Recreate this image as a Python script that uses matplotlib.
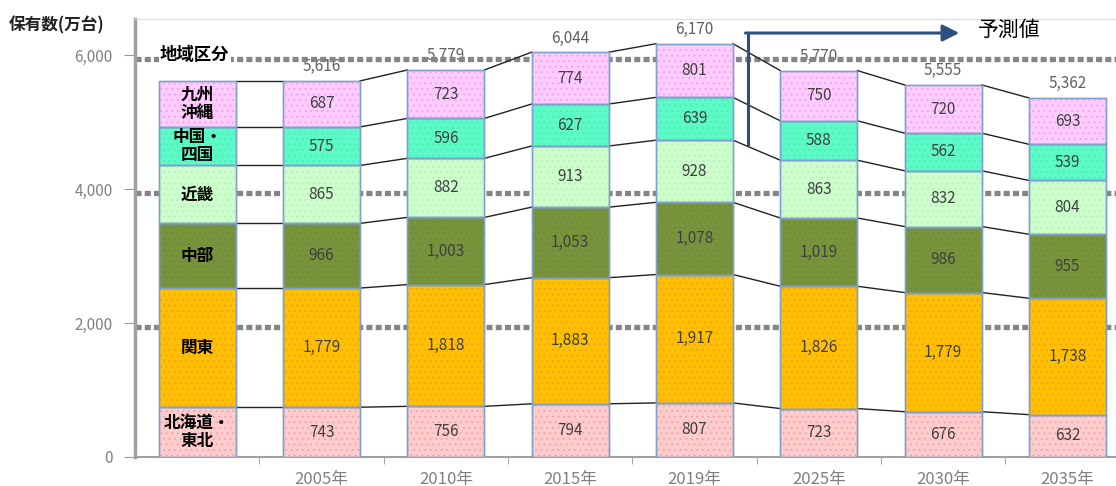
"""Stacked bars of vehicle holdings by region, with forecast years."""

import matplotlib

matplotlib.use("Agg")

import matplotlib.pyplot as plt
import matplotlib.transforms as mtransforms
import numpy as np

plt.rcParams["font.family"] = ["Noto Sans CJK JP", "DejaVu Sans"]
plt.rcParams["hatch.linewidth"] = 0.6

years = ["2005年", "2010年", "2015年", "2019年", "2025年", "2030年", "2035年"]
regions = ["北海道・\n東北", "関東", "中部", "近畿", "中国・\n四国", "九州\n沖縄"]

hokkaido_tohoku = [743, 756, 794, 807, 723, 676, 632]
kanto = [1779, 1818, 1883, 1917, 1826, 1779, 1738]
chubu = [966, 1003, 1053, 1078, 1019, 986, 955]
kinki = [865, 882, 913, 928, 863, 832, 804]
chugoku_shikoku = [575, 596, 627, 639, 588, 562, 539]
kyushu_okinawa = [687, 723, 774, 801, 750, 720, 693]
totals = ["5,616", "5,779", "6,044", "6,170", "5,770", "5,555", "5,362"]

series = [hokkaido_tohoku, kanto, chubu, kinki, chugoku_shikoku, kyushu_okinawa]
face_colors = ["#FFCCCC", "#FFC000", "#77933C", "#CCFFCC", "#5CFAC6", "#FFCCFF"]
dot_colors = ["#F2A0AC", "#F49A2A", "#6E8C36", "#B8ECB8", "#50EAB6", "#EE9EEC"]

# column 0 is the region legend column, it repeats the 2005 values
values = np.array([[s[0]] + list(s) for s in series], dtype=float)
bottoms = np.vstack([np.zeros(values.shape[1]), np.cumsum(values, axis=0)[:-1]])
tops = bottoms + values
x = np.arange(values.shape[1])
width = 0.62

fig = plt.figure(figsize=(11.16, 4.86), dpi=100)
ax = fig.add_axes([0.121, 0.0597, 0.879, 0.9013])
ax.set_xlim(-0.5, 7.39)
ax.set_ylim(0, 6540)

# dotted gridlines, sitting a few pixels below the tick values
offset = mtransforms.ScaledTranslation(0, -4 / 100, fig.dpi_scale_trans)
for level in [2000, 4000, 6000]:
    ax.plot([0, 1], [level, level], color="#858585", lw=3.8, linestyle=(0, (1.15, 0.6)),
            solid_capstyle="butt", transform=ax.get_yaxis_transform() + offset,
            zorder=2, clip_on=False)

for k in range(len(series)):
    ax.bar(x, values[k], width, bottom=bottoms[k], color=face_colors[k],
           edgecolor="#7F9FD0", linewidth=1.0, zorder=3)
    ax.bar(x, values[k], width, bottom=bottoms[k], fill=False, hatch="...",
           edgecolor=dot_colors[k], linewidth=0, zorder=3.5)
    ax.bar(x, values[k], width, bottom=bottoms[k], fill=False,
           edgecolor="#7F9FD0", linewidth=1.0, zorder=3.6)

# connector lines between neighbouring columns
for i in range(len(x) - 1):
    for k in range(len(series)):
        ax.plot([x[i] + width / 2, x[i + 1] - width / 2],
                [tops[k, i], tops[k, i + 1]], color="#222222", lw=1.0, zorder=2.5)

for k in range(len(series)):
    for i in range(len(x)):
        mid = bottoms[k, i] + values[k, i] / 2
        if i == 0:
            ax.text(x[i], mid, regions[k], ha="center", va="center", fontsize=12,
                    fontweight="bold", color="black", linespacing=1.0, zorder=4)
        else:
            ax.text(x[i], mid, f"{int(values[k, i]):,}", ha="center", va="center",
                    fontsize=11, color="#404040", zorder=4)

for i, label in enumerate(totals, start=1):
    ax.annotate(label, (x[i], tops[-1, i]), xytext=(0, 4), textcoords="offset points",
                ha="center", va="bottom", fontsize=11, color="#606060", zorder=1)

ax.text(x[0] - 0.02, 6000, "地域区分", ha="center", va="center", fontsize=12.5,
        fontweight="bold", color="black", zorder=4,
        bbox=dict(facecolor="white", edgecolor="none", pad=1.0))

# forecast arrow
ax.plot([4.43, 4.43], [4680, 6330], color="#2E5080", lw=2.2, zorder=5)
ax.annotate("", xy=(6.13, 6330), xytext=(4.41, 6330),
            arrowprops=dict(arrowstyle="-|>,head_length=1.0,head_width=0.5",
                            color="#2E5080", lw=2.2, shrinkA=0, shrinkB=0), zorder=5)
ax.text(6.28, 6380, "予測値", ha="left", va="center", fontsize=15, color="black")

fig.text(0.008, 0.948, "保有数(万台)", ha="left", va="center", fontsize=12,
         fontweight="bold", color="#222222")

ax.set_yticks([0, 2000, 4000, 6000])
ax.set_yticklabels(["0", "2,000", "4,000", "6,000"], color="#808080", fontsize=11)
ax.set_xticks(x[1:])
ax.set_xticklabels(years, color="#808080", fontsize=12)
ax.set_xticks(x[:-1] + 0.5, minor=True)
ax.tick_params(axis="x", which="major", length=0, pad=10)
ax.tick_params(axis="x", which="minor", length=5, color="#999999")
ax.tick_params(axis="y", length=8, color="#999999", pad=8)

ax.spines["left"].set_color("#A0A0A0")
ax.spines["left"].set_linewidth(2.5)
ax.spines["bottom"].set_color("#A0A0A0")
ax.spines["bottom"].set_linewidth(1.5)
ax.spines["top"].set_color("#DDDDDD")
ax.spines["right"].set_visible(False)

fig.savefig("out.png", dpi=100)
